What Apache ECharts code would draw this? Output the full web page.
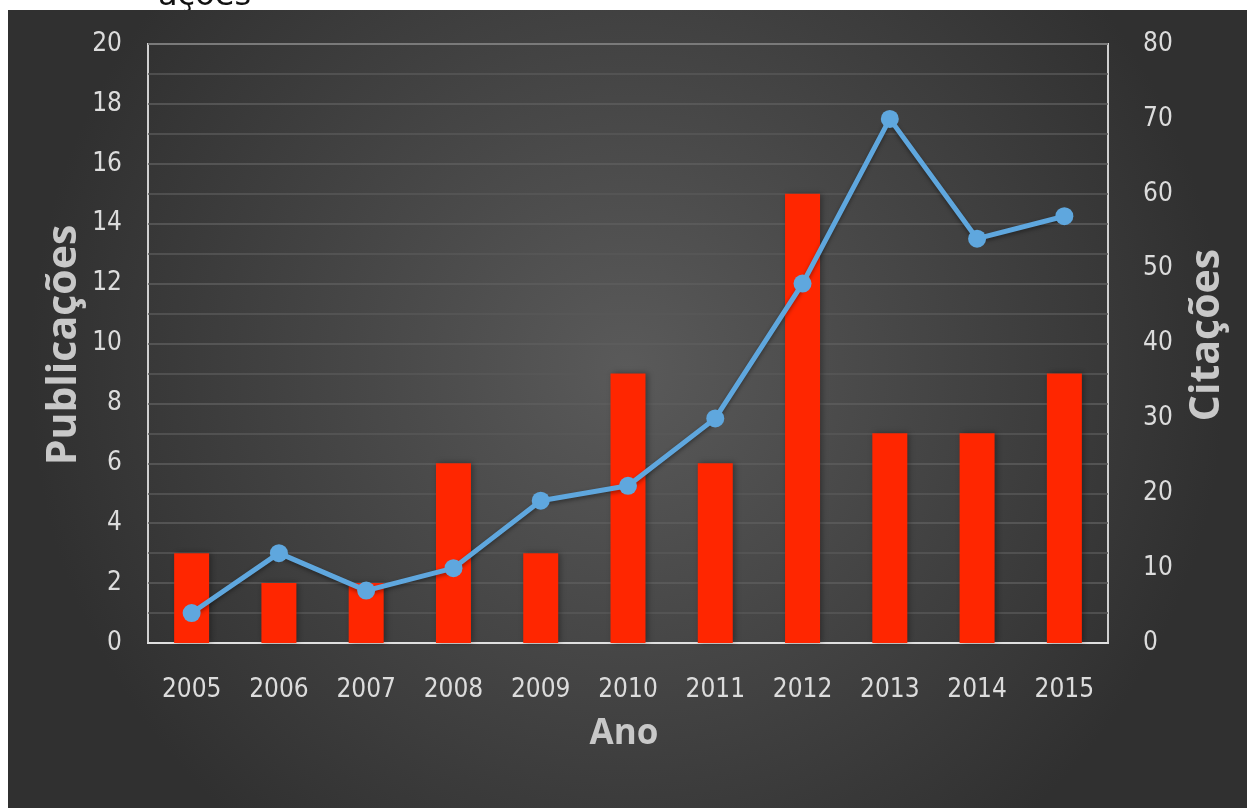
<!DOCTYPE html>
<html><head><meta charset="utf-8">
<script src="https://cdn.jsdelivr.net/npm/echarts@6/dist/echarts.min.js"></script>
<style>html,body{margin:0;padding:0;background:#fff}#c{width:1247px;height:808px}</style>
</head><body><div id="c"></div>
<script>
const years = ['2005','2006','2007','2008','2009','2010','2011','2012','2013','2014','2015'];
const publicacoes = [3,2,2,6,3,9,6,15,7,7,9];
const citacoes = [4,12,7,10,19,21,30,48,70,54,57];
const leftName = 'Publicações';
const rightName = 'Citações';
const xName = 'Ano';

const chart = echarts.init(document.getElementById('c'));
const txt = '#dcdcdc';
const font = '"DejaVu Sans Condensed", sans-serif';
const bold = '"Open Sans", sans-serif';
chart.setOption({
  backgroundColor: '#ffffff',
  animation: false,
  graphic: [
    {type:'text', left:158, top:-19, z:-20, style:{text:'ações', font:'32px "DejaVu Sans", sans-serif', fill:'#111'}},
    {type:'rect', shape:{x:8,y:10,width:1239,height:798}, z:-10,
     style:{fill:{type:'radial', x:0.5, y:0.45, r:0.75, colorStops:[{offset:0,color:'#5a5a5a'},{offset:1,color:'#303030'}]}}},
    {type:'text', x:624, y:734, style:{text:xName, font:'bold 35px '+bold, fill:'#c8c8c8', align:'center', verticalAlign:'middle'}},
    {type:'text', x:64, y:345, rotation:Math.PI/2, style:{text:leftName, font:'bold 41px '+bold, fill:'#c8c8c8', align:'center', verticalAlign:'middle'}},
    {type:'text', x:1207, y:335, rotation:Math.PI/2, style:{text:rightName, font:'bold 41px '+bold, fill:'#c8c8c8', align:'center', verticalAlign:'middle'}}
  ],
  grid: {left:148, right:139, top:44, bottom:165, show:true, borderColor:'#d0d0d0', borderWidth:2, backgroundColor:'transparent'},
  xAxis: {
    type:'category', data:years,
    axisLine:{show:true, lineStyle:{color:'#e0e0e0', width:2}},
    axisTick:{show:false},
    axisLabel:{color:txt, fontSize:26, fontFamily:font, margin:34}
  },
  yAxis: [
    {type:'value', min:0, max:20, interval:2,
     axisLine:{show:false}, axisTick:{show:false},
     axisLabel:{color:txt, fontSize:26, fontFamily:font, margin:26},
     splitLine:{lineStyle:{color:'#5e5e5e', width:1.5}},
     minorTick:{show:false, splitNumber:2},
     minorSplitLine:{show:true, lineStyle:{color:'#585858', width:1.5}}},
    {type:'value', min:0, max:80, interval:10,
     axisLine:{show:false}, axisTick:{show:false},
     axisLabel:{color:txt, fontSize:26, fontFamily:font, margin:35},
     splitLine:{show:false}}
  ],
  series: [
    {type:'bar', data:publicacoes, yAxisIndex:0, barWidth:35, itemStyle:{color:'#ff2600', shadowColor:'rgba(0,0,0,0.35)', shadowBlur:6, shadowOffsetX:2}, z:2},
    {type:'line', data:citacoes, yAxisIndex:1, symbol:'circle', symbolSize:18,
     lineStyle:{color:'#5fa7de', width:5, shadowColor:'rgba(0,0,0,0.4)', shadowBlur:4, shadowOffsetY:2},
     itemStyle:{color:'#5fa7de'}, z:3}
  ]
});
</script></body></html>
